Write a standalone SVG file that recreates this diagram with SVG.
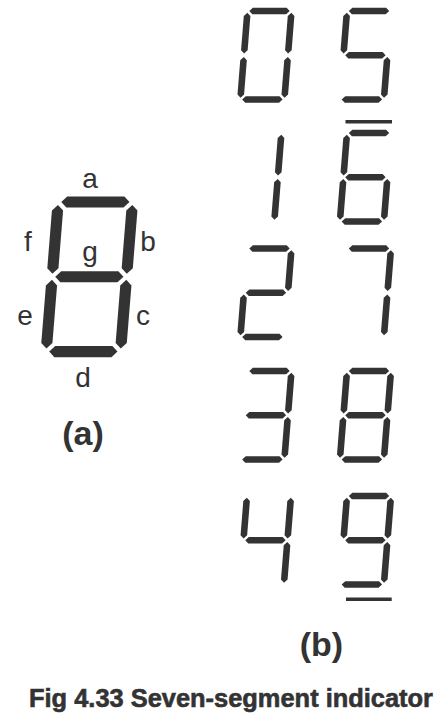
<svg xmlns="http://www.w3.org/2000/svg" width="445" height="720" viewBox="0 0 445 720">
<style>
.seg{fill:#333}
.lbl{font-family:"Liberation Sans",Arial,sans-serif;font-size:28px;fill:#333;text-anchor:middle}
.cap{font-family:"Liberation Sans",Arial,sans-serif;font-weight:bold;fill:#333;text-anchor:middle}
</style>
<defs>
<polygon id="sa" class="seg" points="1.8,0 5.1,-3.3 38.9,-3.3 42.2,0 38.9,3.3 5.1,3.3"/>
<polygon id="sg" class="seg" points="1.8,44.25 5.1,40.95 38.9,40.95 42.2,44.25 38.9,47.55 5.1,47.55"/>
<polygon id="sd" class="seg" points="1.8,88.5 5.1,85.2 38.9,85.2 42.2,88.5 38.9,91.8 5.1,91.8"/>
<polygon id="sf" class="seg" points="0,1.8 3.3,5.1 3.3,39.15 0,42.45 -3.3,39.15 -3.3,5.1"/>
<polygon id="sb" class="seg" points="44,1.8 47.3,5.1 47.3,39.15 44,42.45 40.7,39.15 40.7,5.1"/>
<polygon id="se" class="seg" points="0,46.05 3.3,49.35 3.3,83.4 0,86.7 -3.3,83.4 -3.3,49.35"/>
<polygon id="sc" class="seg" points="44,46.05 47.3,49.35 47.3,83.4 44,86.7 40.7,83.4 40.7,49.35"/>
</defs>

<g id="big-8" transform="translate(58.2,202) scale(1.69) skewX(-4.6)">
<use href="#sa"/><use href="#sb"/><use href="#sc"/><use href="#sd"/><use href="#se"/><use href="#sf"/><use href="#sg"/>
</g>
<g id="labels-a">
<text class="lbl" x="90" y="188">a</text>
<text class="lbl" x="148" y="251">b</text>
<text class="lbl" x="143" y="325">c</text>
<text class="lbl" x="83" y="387">d</text>
<text class="lbl" x="25" y="325">e</text>
<text class="lbl" x="28" y="251">f</text>
<text class="lbl" x="90" y="261">g</text>
</g>
<text id="label-a" class="cap" x="83" y="445" font-size="34">(a)</text>

<g id="digit-0" transform="translate(247.5,11) skewX(-4.6)">
<use href="#sa"/><use href="#sb"/><use href="#sc"/><use href="#sd"/><use href="#se"/><use href="#sf"/>
</g>
<g id="digit-1" transform="translate(237.4,133) skewX(-4.6)">
<use href="#sb"/><use href="#sc"/>
</g>
<g id="digit-2" transform="translate(247.5,248.5) skewX(-4.6)">
<use href="#sa"/><use href="#sb"/><use href="#sg"/><use href="#se"/><use href="#sd"/>
</g>
<g id="digit-3" transform="translate(247.5,371) skewX(-4.6)">
<use href="#sa"/><use href="#sb"/><use href="#sg"/><use href="#sc"/><use href="#sd"/>
</g>
<g id="digit-4" transform="translate(247,496) skewX(-4.6)">
<use href="#sf"/><use href="#sg"/><use href="#sb"/><use href="#sc"/>
</g>
<g id="digit-5" transform="translate(347,11) skewX(-4.6)">
<use href="#sa"/><use href="#sf"/><use href="#sg"/><use href="#sc"/><use href="#sd"/>
</g>
<g id="digit-6">
<rect x="345.5" y="120" width="46.5" height="3.5" class="seg"/>
<g transform="translate(347,133) skewX(-4.6)">
<use href="#sa"/><use href="#sf"/><use href="#sg"/><use href="#se"/><use href="#sc"/><use href="#sd"/>
</g>
</g>
<g id="digit-7" transform="translate(347,248.5) skewX(-4.6)">
<use href="#sa"/><use href="#sb"/><use href="#sc"/>
</g>
<g id="digit-8" transform="translate(347,371) skewX(-4.6)">
<use href="#sa"/><use href="#sb"/><use href="#sc"/><use href="#sd"/><use href="#se"/><use href="#sf"/><use href="#sg"/>
</g>
<g id="digit-9">
<g transform="translate(347,496) skewX(-4.6)">
<use href="#sa"/><use href="#sb"/><use href="#sc"/><use href="#sd"/><use href="#sf"/><use href="#sg"/>
</g>
<rect x="346" y="597.5" width="45.7" height="3.5" class="seg"/>
</g>
<text id="label-b" class="cap" x="321.5" y="656" font-size="34">(b)</text>

<text id="caption" class="cap" x="231" y="707" font-size="25" stroke="#333" stroke-width="0.6" textLength="404" lengthAdjust="spacingAndGlyphs">Fig 4.33 Seven-segment indicator</text>
</svg>
